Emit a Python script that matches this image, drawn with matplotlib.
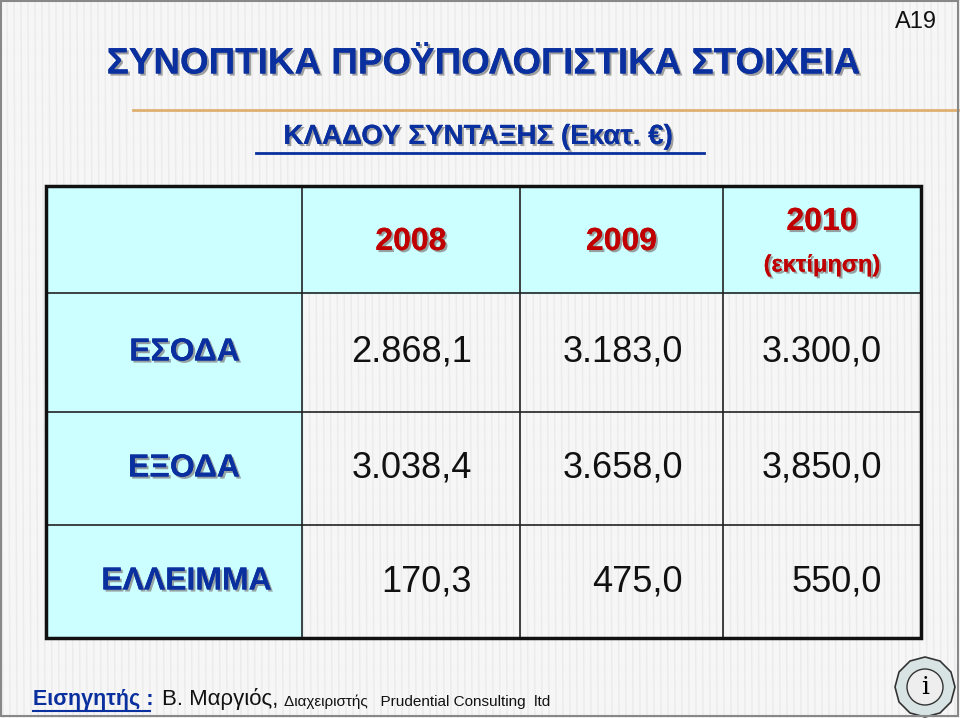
import matplotlib
matplotlib.use("Agg")
import matplotlib.pyplot as plt
from matplotlib.patches import Rectangle, RegularPolygon, Circle
import matplotlib.patheffects as pe

years = ["2008", "2009", "2010"]
year_note = ["", "", "(εκτίμηση)"]
row_labels = ["ΕΣΟΔΑ", "ΕΞΟΔΑ", "ΕΛΛΕΙΜΜΑ"]
values = [["2.868,1", "3.183,0", "3.300,0"],
          ["3.038,4", "3.658,0", "3,850,0"],
          ["170,3", "475,0", "550,0"]]

plt.rcParams['font.family'] = ['Liberation Sans', 'DejaVu Sans']
fig = plt.figure(figsize=(9.6, 7.18), dpi=100)
ax = fig.add_axes([0, 0, 1, 1])
ax.set_xlim(0, 960); ax.set_ylim(718, 0); ax.axis('off')

# background with faint stripes
ax.add_patch(Rectangle((0, 0), 960, 718, color='#f6f6f6', zorder=0))
for x in range(0, 960, 7):
    ax.plot([x, x + 3], [0, 718], color='#ebebeb', lw=1.0, zorder=0.1)
ax.add_patch(Rectangle((1, 1), 957, 715, fill=False, ec='#888888', lw=1.5, zorder=5))

shadow = [pe.withSimplePatchShadow(offset=(1.5, -1.5), shadow_rgbFace='#888888', alpha=0.8), pe.Normal()]
blue = '#0a2f9e'
ax.text(483, 64, "ΣΥΝΟΠΤΙΚΑ ΠΡΟΫΠΟΛΟΓΙΣΤΙΚΑ ΣΤΟΙΧΕΙΑ", fontsize=26.5, fontweight='bold',
        color=blue, ha='center', va='center', path_effects=shadow)
ax.text(937, 22, "A19", fontsize=17, ha='right', va='center', color='#111111')
ax.plot([133, 958], [110, 110], color='#e0b070', lw=2, zorder=1)
ax.text(478, 137, "ΚΛΑΔΟΥ ΣΥΝΤΑΞΗΣ (Εκατ. €)", fontsize=20, fontweight='bold',
        color=blue, ha='center', va='center', path_effects=shadow)
ax.plot([256, 704], [153, 153], color=blue, lw=2)

# table grid
xs = [46, 302, 520, 723, 921]
ys = [186, 293, 412, 525, 638]
val_right = [472, 683, 882]
cyan = '#ccffff'
ax.add_patch(Rectangle((xs[0], ys[0]), xs[-1] - xs[0], ys[1] - ys[0], color=cyan, zorder=1))
ax.add_patch(Rectangle((xs[0], ys[1]), xs[1] - xs[0], ys[-1] - ys[1], color=cyan, zorder=1))
for x in xs[1:-1]:
    ax.plot([x, x], [ys[0], ys[-1]], color='#222222', lw=1.2, zorder=2)
for y in ys[1:-1]:
    ax.plot([xs[0], xs[-1]], [y, y], color='#222222', lw=1.2, zorder=2)
ax.add_patch(Rectangle((xs[0], ys[0]), xs[-1] - xs[0], ys[-1] - ys[0], fill=False,
                       ec='#111111', lw=2.5, zorder=3))

red = '#c00000'
for j, (yr, note) in enumerate(zip(years, year_note)):
    cx = (xs[j + 1] + xs[j + 2]) / 2
    if note:
        ax.text(cx, 222, yr, fontsize=23, fontweight='bold', color=red, ha='center', va='center', path_effects=shadow)
        ax.text(cx, 265, note, fontsize=17, fontweight='bold', color=red, ha='center', va='center', path_effects=shadow)
    else:
        ax.text(cx, 242, yr, fontsize=23, fontweight='bold', color=red, ha='center', va='center', path_effects=shadow)

for i, lab in enumerate(row_labels):
    cy = (ys[i + 1] + ys[i + 2]) / 2
    ax.text(240 if i < 2 else 272, cy, lab, fontsize=23, fontweight='bold', color=blue, ha='right', va='center',
            path_effects=shadow)
    for j, v in enumerate(values[i]):
        ax.text(val_right[j], cy, v, fontsize=26, color='#111111', ha='right', va='center')

# footer
ax.text(33, 699, "Εισηγητής :", fontsize=15.5, fontweight='bold', color=blue, ha='left', va='center')
ax.plot([33, 150], [711, 711], color=blue, lw=1.5)
ax.text(162, 699, "Β. Μαργιός,", fontsize=16, color='#111111', ha='left', va='center')
ax.text(284, 702, "Διαχειριστής   Prudential Consulting  ltd", fontsize=11, color='#111111', ha='left', va='center')

# logo
ax.add_patch(RegularPolygon((925, 687), 12, radius=30, fc='#d8e4e4', ec='#333333', lw=1.2, zorder=4))
ax.add_patch(Circle((925, 687), 18, fc='#eeeeee', ec='#333333', lw=1, zorder=4))
ax.text(925, 688, "i", fontsize=18, fontfamily='DejaVu Serif', ha='center', va='center', zorder=5)

fig.savefig("out.png", dpi=100)
